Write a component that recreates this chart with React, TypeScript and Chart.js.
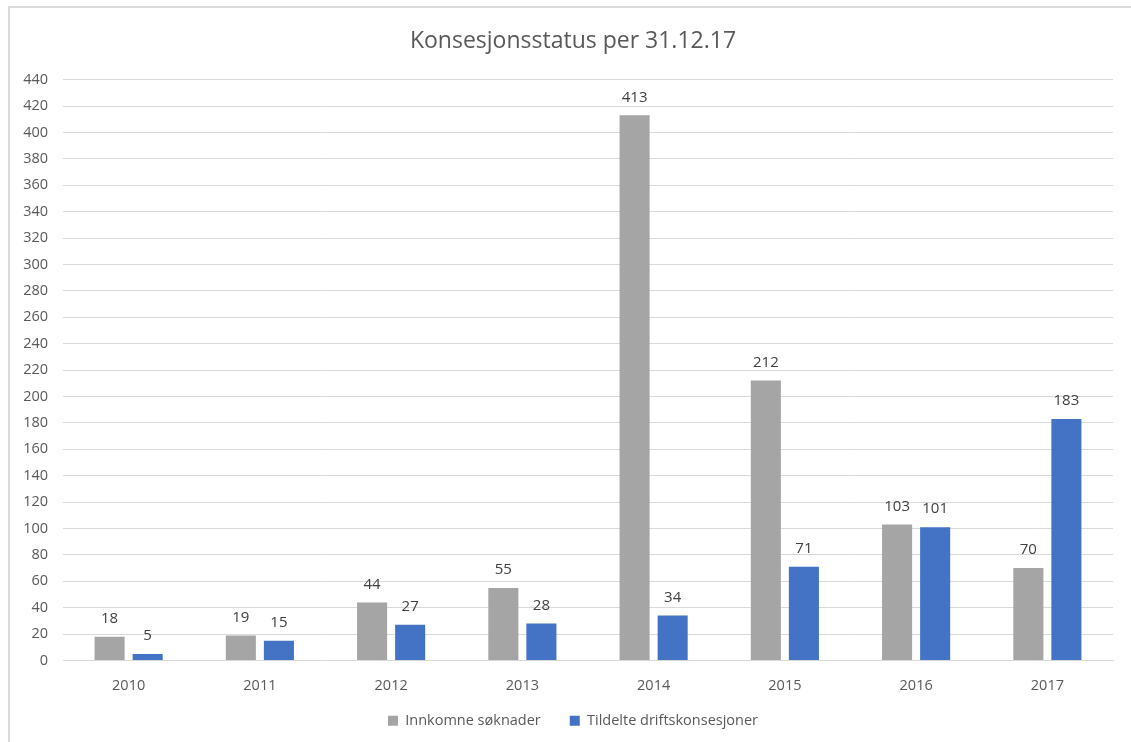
import React, { useEffect, useRef } from "react";
import { Chart, registerables } from "chart.js";

Chart.register(...registerables);

const title = "Konsesjonsstatus per 31.12.17";
const categories = ["2010", "2011", "2012", "2013", "2014", "2015", "2016", "2017"];
const seriesNames = ["Innkomne søknader", "Tildelte driftskonsesjoner"];
const innkomne = [18, 19, 44, 55, 413, 212, 103, 70];
const tildelte = [5, 15, 27, 28, 34, 71, 101, 183];
const yMin = 0;
const yMax = 440;
const yStep = 20;

const FONT = "'Open Sans', 'Segoe UI', sans-serif";

const valueLabels = {
  id: "valueLabels",
  afterDatasetsDraw(chart: any) {
    const ctx = chart.ctx;
    ctx.save();
    ctx.font = `15px ${FONT}`;
    ctx.fillStyle = "#404040";
    ctx.textAlign = "center";
    ctx.textBaseline = "middle";
    chart.data.datasets.forEach((ds: any, i: number) => {
      const meta = chart.getDatasetMeta(i);
      meta.data.forEach((bar: any, j: number) => {
        ctx.fillText(String(ds.data[j]), bar.x, bar.y - 18);
      });
    });
    ctx.restore();
  },
};

// widen the label clip areas of the axes so the tick labels are not cut off
const unclipLabels = {
  id: "unclipLabels",
  afterLayout(chart: any) {
    const x = chart.scales.x;
    x.bottom = x.top + 40;
    const y = chart.scales.y;
    y.left = 0;
  },
};

export default function App() {
  const ref = useRef<HTMLCanvasElement | null>(null);
  useEffect(() => {
    document.body.style.margin = "0";
    const chart = new Chart(ref.current as HTMLCanvasElement, {
      type: "bar",
      data: {
        labels: categories,
        datasets: [
          {
            label: seriesNames[0],
            data: innkomne,
            backgroundColor: "#A5A5A5",
            categoryPercentage: 0.58,
            barPercentage: 0.79,
          },
          {
            label: seriesNames[1],
            data: tildelte,
            backgroundColor: "#4472C4",
            categoryPercentage: 0.58,
            barPercentage: 0.79,
          },
        ],
      },
      options: {
        animation: false,
        responsive: false,
        maintainAspectRatio: false,
        layout: { padding: { top: 18, left: 33, right: 18, bottom: 4 } },
        plugins: {
          title: {
            display: true,
            text: title,
            color: "#595959",
            font: { family: FONT, size: 23, weight: "normal" },
            padding: { top: 10, bottom: 24 },
          },
          legend: {
            position: "bottom",
            maxHeight: 54,
            labels: {
              color: "#595959",
              font: { family: FONT, size: 14.5 },
              boxWidth: 10,
              boxHeight: 10,
              padding: 29,
            },
          },
          tooltip: { enabled: false },
        },
        scales: {
          x: {
            afterFit(scale: any) {
              scale.height = 24;
            },
            grid: { display: false, drawTicks: false },
            border: { display: true, color: "#d9d9d9", width: 1 },
            ticks: { color: "#595959", font: { family: FONT, size: 14.5 }, padding: 17 },
          },
          y: {
            min: yMin,
            max: yMax,
            afterFit(scale: any) {
              scale.width = 30;
            },
            grid: { color: "#d9d9d9", drawTicks: false, lineWidth: 1 },
            border: { display: false },
            ticks: {
              stepSize: yStep,
              color: "#595959",
              font: { family: FONT, size: 14.5 },
              padding: 15,
            },
          },
        },
      },
      plugins: [valueLabels, unclipLabels],
    });
    return () => chart.destroy();
  }, []);
  return (
    <div style={{ position: "absolute", left: 0, top: 0, width: 1131, height: 742, overflow: "hidden", background: "#fff" }}>
      <div
        style={{
          position: "absolute",
          left: 8,
          top: 6,
          width: 1160,
          height: 780,
          border: "2px solid #d9d9d9",
        }}
      />
      <canvas ref={ref} width={1131} height={742} style={{ position: "absolute", left: 0, top: 0 }} />
    </div>
  );
}
